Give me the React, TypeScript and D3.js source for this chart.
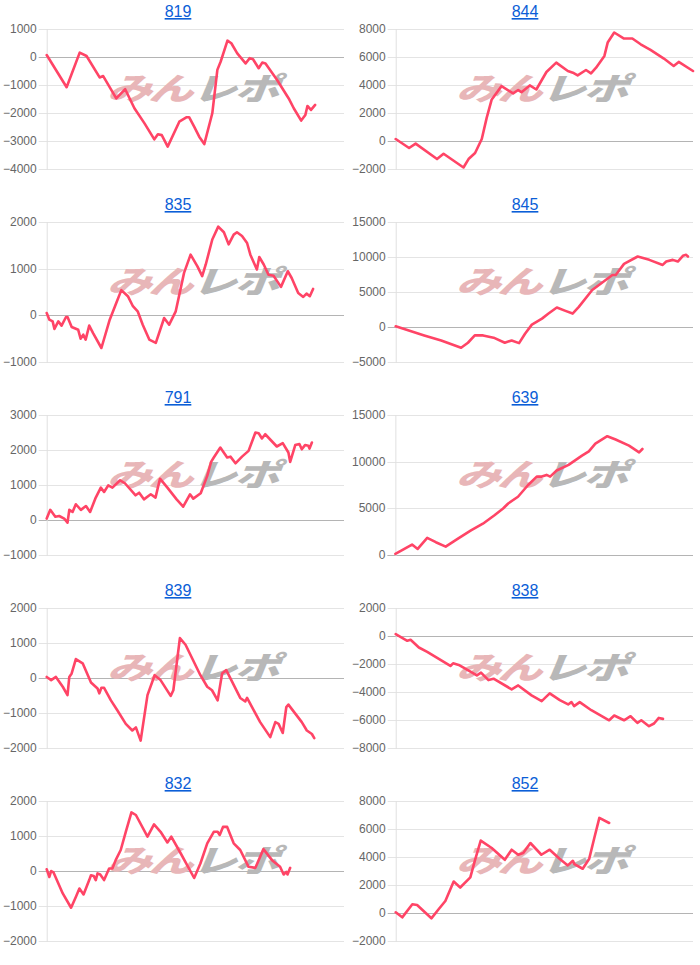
import React from "react";
import * as d3 from "d3";

// ---- data ----
const titles = ["819", "844", "835", "845", "791", "639", "839", "838", "832", "852"];

const ticks819 = [1000, 0, -1000, -2000, -3000, -4000];
const ticks844 = [8000, 6000, 4000, 2000, 0, -2000];
const ticks835 = [2000, 1000, 0, -1000];
const ticks845 = [15000, 10000, 5000, 0, -5000];
const ticks791 = [3000, 2000, 1000, 0, -1000];
const ticks639 = [15000, 10000, 5000, 0];
const ticks839 = [2000, 1000, 0, -1000, -2000];
const ticks838 = [2000, 0, -2000, -4000, -6000, -8000];
const ticks832 = [2000, 1000, 0, -1000, -2000];
const ticks852 = [8000, 6000, 4000, 2000, 0, -2000];

const s819: [number, number][] = [
  [0, 70], [6.7, -1080], [11.1, 155], [13.4, 35], [17.8, -730], [19, -680], [23.4, -1480], [26.4, -1150],
  [29.5, -1830], [32.9, -2370], [36.2, -2940], [37.4, -2760], [38.7, -2790], [40.7, -3200], [44.6, -2310],
  [47.1, -2150], [47.9, -2150], [49.6, -2490], [51.3, -2845], [53, -3110], [55.7, -2010], [57.4, -460],
  [58.5, -170], [60.8, 585], [62.1, 490], [64.1, 130], [66.9, -230], [68.3, -40], [69.4, -80], [71.3, -400],
  [72.5, -200], [73.6, -230], [77.5, -820], [81.4, -1480], [83.1, -1830], [85.6, -2270], [87, -2070],
  [87.7, -1750], [88.9, -1890], [90.3, -1710],
];
const s844: [number, number][] = [
  [0, 140], [4.5, -500], [6.7, -190], [13.9, -1290], [16.1, -910], [22.8, -1890], [24.5, -1290], [26.7, -860],
  [28.95, 140], [30.6, 1650], [32.3, 2970], [35.6, 3920], [39.5, 3400], [41.2, 3640], [42.3, 3490],
  [45.1, 3970], [47.3, 3680], [50.7, 4930], [54, 5600], [57.9, 5000], [59.6, 4880], [61.2, 4690],
  [64, 5070], [65.7, 4830], [67.4, 5240], [70.2, 6080], [71.3, 7030], [73.5, 7750], [76.8, 7320],
  [79.6, 7320], [82.4, 6910], [85.7, 6510], [90.2, 5890], [93.5, 5360], [95.2, 5650], [100, 5000],
];
const s835: [number, number][] = [
  [0, 50], [0.9, -93], [2, -130], [2.6, -290], [3.9, -130], [5, -220], [6.5, -36], [7, -36], [8.4, -250],
  [10.6, -310], [11.4, -500], [12.3, -415], [13.1, -520], [14.3, -220], [15.6, -380], [18.4, -700],
  [21.2, -93], [23.4, 265], [25.1, 540], [27.3, 410], [29, 195], [30.6, 86], [32.3, -200], [34.5, -520],
  [36.7, -590], [39.5, -57], [41.2, -200], [43.4, 86], [46.2, 910], [48.4, 1300], [50.7, 1050], [52.3, 840],
  [53.5, 1090], [55.7, 1625], [57.7, 1900], [59.6, 1780], [61.2, 1520], [62.9, 1730], [64, 1780],
  [65.7, 1700], [67.4, 1550], [68.5, 1300], [70.7, 980], [71.5, 1250], [73, 1090], [74.6, 870],
  [76.3, 850], [78.8, 610], [81.1, 945], [82.4, 800], [84.6, 480], [86.3, 395], [87.4, 465], [88.5, 410],
  [89.6, 565],
];
const s845: [number, number][] = [
  [0, 100], [9.6, -1200], [15.3, -1920], [22, -2970], [24.3, -2250], [26.6, -1200], [29.4, -1200],
  [33.3, -1580], [36.7, -2250], [39, -1920], [41.5, -2300], [43.5, -960], [45.8, 340], [49.2, 1200],
  [51.4, 1920], [54.2, 2780], [57.1, 2300], [59.5, 1920], [61.6, 2880], [66.1, 5280], [72.9, 7430],
  [74, 7430], [76.8, 9020], [81.4, 10070], [85.3, 9590], [89.8, 8870], [91, 9350], [93.2, 9590],
  [94.9, 9350], [96.6, 10170], [97.7, 10310], [98.3, 10070],
];
const s791: [number, number][] = [
  [0, 40], [1.2, 290], [2.9, 95], [4.2, 115], [5.9, 40], [7, -75], [7.6, 290], [8.7, 230], [9.8, 450],
  [11.5, 290], [13.2, 400], [14.6, 230], [16.5, 640], [18.2, 925], [19.3, 800], [20.7, 990], [22.1, 925],
  [24.7, 1135], [26.3, 1050], [29.9, 705], [31.1, 780], [32.7, 590], [35, 735], [36.6, 640], [38.1, 1180],
  [40.6, 925], [43.7, 590], [45.9, 380], [48.2, 735], [49.3, 610], [51.8, 765], [54, 1260], [55.3, 1660],
  [56.2, 1785], [58.4, 2070], [60.7, 1785], [61.8, 1810], [63.5, 1620], [65.7, 1810], [67.9, 1975],
  [70.2, 2500], [71.3, 2480], [72.4, 2330], [73.5, 2450], [77.4, 2100], [79.4, 2195], [81.3, 1930],
  [81.9, 1660], [83.6, 2140], [85, 2170], [85.8, 2020], [86.9, 2140], [88, 2120], [88.4, 2040], [89.2, 2215],
];
const s639: [number, number][] = [
  [0, 110], [5.6, 1120], [7.5, 650], [10.7, 1840], [13.6, 1370], [16.9, 900], [20.9, 1730], [25.4, 2630],
  [29.4, 3350], [33.3, 4260], [36.2, 4980], [37.9, 5520], [41.2, 6240], [44.6, 7500], [47.5, 8400],
  [49.2, 8400], [50.8, 8580], [52, 8400], [54.2, 9050], [58.2, 9660], [62.7, 10640], [65, 11110],
  [67.2, 11940], [71.2, 12730], [74, 12370], [78.5, 11720], [81.9, 11000], [83, 11360],
];
const s839: [number, number][] = [
  [0, 30], [1.5, -60], [3.1, 30], [5.4, -250], [7, -490], [7.6, 30], [8.4, 130], [9.8, 540], [12.1, 420],
  [14.9, -130], [17.1, -300], [17.7, -440], [18.4, -280], [19.3, -280], [21.6, -640], [23.8, -930],
  [26.6, -1310], [28.8, -1500], [30, -1410], [31.6, -1790], [33.9, -490], [36.3, 80], [38.3, -60],
  [41.7, -510], [42.6, -350], [44.8, 1140], [46.7, 950], [51.7, 80], [54, -250], [55.6, -350], [57.5, -640],
  [59, 130], [60.4, 225], [65.1, -570], [66.8, -670], [67.4, -570], [71.8, -1260], [75.2, -1690],
  [76.9, -1260], [78, -1310], [79.4, -1570], [80.6, -830], [81.3, -760], [85.8, -1260], [87.5, -1500],
  [89.2, -1600], [90, -1720],
];
const s838: [number, number][] = [
  [0, 130], [3.9, -340], [5, -270], [7.8, -820], [10.6, -1130], [18.4, -2140], [19.3, -1950], [21.2, -2070],
  [23.4, -2330], [27.3, -2810], [28.7, -2620], [31.2, -3150], [32.9, -3050], [39, -3810], [41.2, -3530],
  [45.7, -4240], [49.1, -4650], [51.8, -4100], [55.2, -4580], [58, -4890], [59.1, -4720], [60, -5010],
  [61.9, -4720], [65.8, -5300], [71.8, -6020], [73.5, -5680], [76.8, -6020], [79, -5730], [81.3, -6210],
  [82.6, -6020], [85.2, -6440], [86.9, -6250], [88.5, -5850], [89.9, -5920],
];
const s832: [number, number][] = [
  [0, 50], [0.9, -170], [1.5, 0], [2.3, -40], [5.4, -640], [8.2, -1050], [9.8, -740], [11, -500], [12.4, -670],
  [14.3, -260], [14.9, -120], [15.8, -140], [16.5, -260], [17.1, -70], [18, -100], [19.3, -260], [21, 70],
  [22.1, 70], [23.2, 310], [24.9, 600], [26.6, 1120], [28.5, 1675], [30, 1600], [33.9, 980], [36.1, 1330],
  [38.3, 1120], [40.6, 815], [41.9, 980], [45.1, 500], [49.6, -200], [51.7, 215], [54, 790], [56.2, 1120],
  [57.5, 1120], [58.2, 1030], [59.3, 1260], [60.7, 1260], [62.9, 790], [65.1, 600], [67.9, 120], [70.2, 90],
  [72.9, 625], [75.8, 310], [78.5, 120], [79.7, -100], [80.6, -25], [81, -100], [81.9, 90],
];
const s852: [number, number][] = [
  [0, 50], [2.2, -310], [5.6, 620], [7.2, 570], [12, -380], [14.5, 290], [16.7, 860], [19.5, 2250],
  [21.7, 1820], [25.1, 2540], [26.7, 3800], [28.6, 5170], [32.3, 4640], [36.7, 3800], [39, 4520],
  [41.2, 4160], [42.9, 4280], [45.3, 5000], [49, 4160], [51.8, 4520], [55.1, 3880], [57.9, 3400],
  [59.6, 3730], [60.1, 3490], [62.9, 3160], [65.1, 3880], [66.8, 5360], [68.5, 6790], [71.8, 6430],
];

const allSeries = [s819, s844, s835, s845, s791, s639, s839, s838, s832, s852];
const allTicks = [ticks819, ticks844, ticks835, ticks845, ticks791, ticks639, ticks839, ticks838, ticks832, ticks852];
const xDomain: [number, number] = [0, 100];

// ---- layout ----
const W = 700;
const H = 965;
const ROW_PITCH = 193;
const FONT = "Arial, 'Liberation Sans', Helvetica, sans-serif";

let ctx: CanvasRenderingContext2D | null = null;
function textWidth(s: string): number {
  if (!ctx && typeof document !== "undefined") {
    ctx = document.createElement("canvas").getContext("2d");
  }
  if (ctx) {
    ctx.font = `12px ${FONT}`;
    return ctx.measureText(s).width;
  }
  return s.length * 6.7;
}

function Panel({ idx }: { idx: number }) {
  const col = idx % 2;
  const row = Math.floor(idx / 2);
  const ticks = allTicks[idx];
  const data = allSeries[idx];
  const labels = ticks.map((t) => d3.format("d")(t));
  const maxW = d3.max(labels, (l) => textWidth(l)) ?? 30;
  const cellX = col === 0 ? 3 : 352;
  const left = cellX + maxW + 10;
  const right = col === 0 ? 344 : 693;
  const top = 29 + row * ROW_PITCH;
  const bottom = 169 + row * ROW_PITCH;

  const x = d3.scaleLinear().domain(xDomain).range([left, right]);
  const y = d3
    .scaleLinear()
    .domain([d3.min(ticks) as number, d3.max(ticks) as number])
    .range([bottom, top]);
  const line = d3
    .line<[number, number]>()
    .x((d) => x(d[0]))
    .y((d) => y(d[1]));

  const titleX = col === 0 ? 178 : 525;
  const wmX = (left + right) / 2;
  const wmY = 89 + row * ROW_PITCH;

  return (
    <g>
      <text
        x={titleX}
        y={17 + row * ROW_PITCH}
        textAnchor="middle"
        fontFamily={FONT}
        fontSize={16}
        fill="#0b5ed7"
        textDecoration="underline"
        style={{ textDecoration: "underline" }}
      >
        {titles[idx]}
      </text>
      {/* grid */}
      {ticks.map((t) => (
        <line
          key={t}
          x1={left - 8}
          x2={right}
          y1={Math.round(y(t)) + 0.5}
          y2={Math.round(y(t)) + 0.5}
          stroke={t === 0 ? "#b4b4b4" : "#e4e4e4"}
          strokeWidth={1}
        />
      ))}
      <line x1={left + 0.5} x2={left + 0.5} y1={top} y2={bottom + 1} stroke="#e0e0e0" strokeWidth={1} />
      {ticks.map((t, i) => (
        <text
          key={"l" + t}
          x={left - 10}
          y={y(t)}
          textAnchor="end"
          dominantBaseline="central"
          fontFamily={FONT}
          fontSize={12}
          fill="#666"
        >
          {labels[i]}
        </text>
      ))}
      {/* watermark */}
      <g transform={`translate(${wmX},${wmY}) scale(1.18,0.82) skewX(-16)`}>
        <text
          x={-1}
          y={14}
          textAnchor="end"
          fontFamily="'Noto Sans CJK JP', sans-serif"
          fontWeight={900}
          fontSize={38}
          fill="#e8b6b8"
          letterSpacing={-3}
        >
          みん
        </text>
        <text
          x={1}
          y={14}
          textAnchor="start"
          fontFamily="'Noto Sans CJK JP', sans-serif"
          fontWeight={900}
          fontSize={38}
          fill="#b8b8b8"
          letterSpacing={-2}
        >
          レポ
        </text>
      </g>
      <path
        d={line(data) ?? ""}
        fill="none"
        stroke="#ff4466"
        strokeWidth={2.6}
        strokeLinejoin="round"
        strokeLinecap="round"
      />
    </g>
  );
}

export default function App() {
  return (
    <svg
      width={W}
      height={H}
      viewBox={`0 0 ${W} ${H}`}
      style={{ position: "absolute", left: 0, top: 0, background: "#fff" }}
    >
      <rect width={W} height={H} fill="#fff" />
      {titles.map((_, i) => (
        <Panel key={i} idx={i} />
      ))}
    </svg>
  );
}
